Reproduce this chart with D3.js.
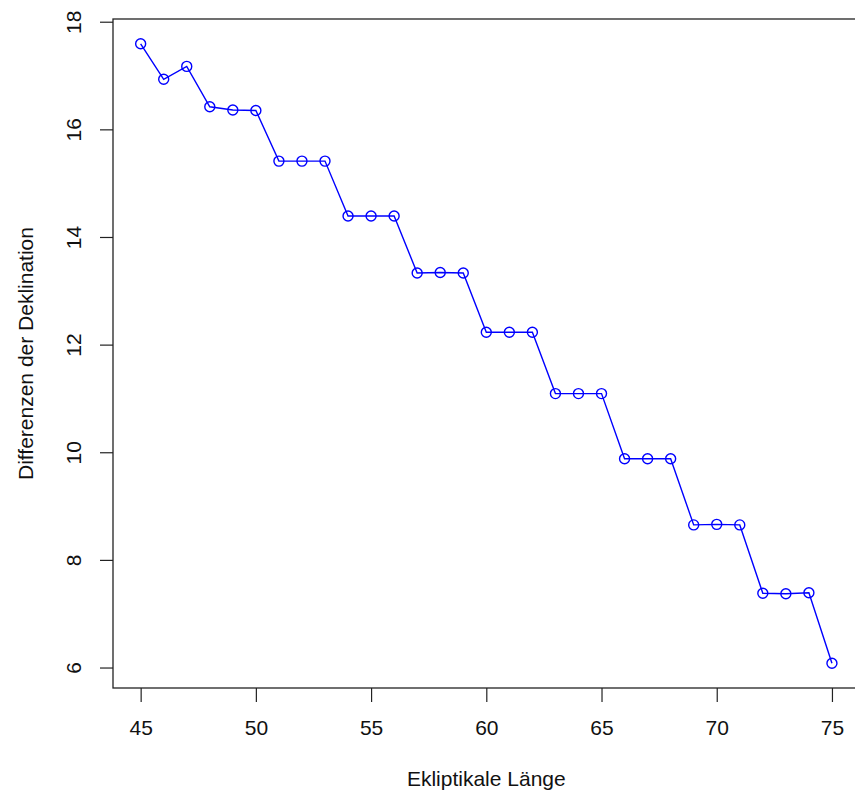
<!DOCTYPE html>
<html>
<head>
<meta charset="utf-8">
<script src="https://cdn.jsdelivr.net/npm/d3@7"></script>
<style>
  body { margin: 0; background: #fff; }
  svg text { font-family: "Liberation Sans", Arial, sans-serif; }
</style>
</head>
<body>
<div id="chart"></div>
<script>
const width = 855;
const height = 796;

// ekliptikale Länge (Grad)
const laenge = [45, 46, 47, 48, 49, 50, 51, 52, 53, 54, 55, 56, 57, 58, 59, 60,
  61, 62, 63, 64, 65, 66, 67, 68, 69, 70, 71, 72, 73, 74, 75];
// Differenzen der Deklination
const differenz = [17.59, 16.93, 17.17, 16.42, 16.36, 16.35, 15.41, 15.41, 15.41,
  14.39, 14.39, 14.39, 13.33, 13.34, 13.33, 12.23, 12.23, 12.23, 11.09, 11.09, 11.09,
  9.88, 9.88, 9.88, 8.65, 8.66, 8.65, 7.38, 7.37, 7.39, 6.08];
const xTicks = [45, 50, 55, 60, 65, 70, 75];
const yTicks = [6, 8, 10, 12, 14, 16, 18];

const data = laenge.map((l, i) => ({ x: l, y: differenz[i] }));

// R-style 4% padding
function pad(ext) {
  const d = (ext[1] - ext[0]) * 0.04;
  return [ext[0] - d, ext[1] + d];
}

const plotLeft = 113, plotTop = 19, plotBottom = 688, plotRight = 859.6;
const fontSize = "21px";

const x = d3.scaleLinear().domain(pad(d3.extent(laenge))).range([plotLeft, plotRight]);
const y = d3.scaleLinear().domain(pad(d3.extent(differenz))).range([plotBottom, plotTop]);

const svg = d3.select("#chart").append("svg")
  .attr("width", width)
  .attr("height", height);

// box
svg.append("rect")
  .attr("x", plotLeft)
  .attr("y", plotTop)
  .attr("width", plotRight - plotLeft)
  .attr("height", plotBottom - plotTop)
  .attr("fill", "none")
  .attr("stroke", "#222")
  .attr("stroke-width", 1.3);

// x axis
const xAxis = svg.append("g")
  .attr("transform", `translate(0,${plotBottom})`)
  .call(d3.axisBottom(x).tickValues(xTicks).tickSize(14));
xAxis.select("path.domain").remove();
xAxis.selectAll("line").attr("stroke", "#222").attr("stroke-width", 1.2);
xAxis.selectAll("text")
  .attr("y", 47)
  .attr("dy", null)
  .attr("font-size", fontSize)
  .attr("fill", "#111");

// y axis
const yAxis = svg.append("g")
  .attr("transform", `translate(${plotLeft},0)`)
  .call(d3.axisLeft(y).tickValues(yTicks).tickSize(13));
yAxis.select("path.domain").remove();
yAxis.selectAll("line").attr("stroke", "#222").attr("stroke-width", 1.2);
yAxis.selectAll("text").remove();
yAxis.selectAll(".tick").append("text")
  .attr("transform", "translate(-32,0) rotate(-90)")
  .attr("text-anchor", "middle")
  .attr("font-size", fontSize)
  .attr("fill", "#111")
  .text(d => d);

// axis titles
svg.append("text")
  .attr("x", (plotLeft + plotRight) / 2)
  .attr("y", 786)
  .attr("text-anchor", "middle")
  .attr("font-size", fontSize)
  .attr("fill", "#111")
  .text("Ekliptikale Länge");

svg.append("text")
  .attr("transform", `translate(33,${(plotTop + plotBottom) / 2}) rotate(-90)`)
  .attr("text-anchor", "middle")
  .attr("font-size", fontSize)
  .attr("fill", "#111")
  .text("Differenzen der Deklination");

// line + points
const line = d3.line().x(d => x(d.x)).y(d => y(d.y));

svg.append("path")
  .datum(data)
  .attr("fill", "none")
  .attr("stroke", "#0000ff")
  .attr("stroke-width", 1.4)
  .attr("d", line);

svg.selectAll(".pt").data(data)
  .join("circle")
  .attr("class", "pt")
  .attr("cx", d => x(d.x))
  .attr("cy", d => y(d.y))
  .attr("r", 5)
  .attr("fill", "none")
  .attr("stroke", "#0000ff")
  .attr("stroke-width", 1.4);
</script>
</body>
</html>
